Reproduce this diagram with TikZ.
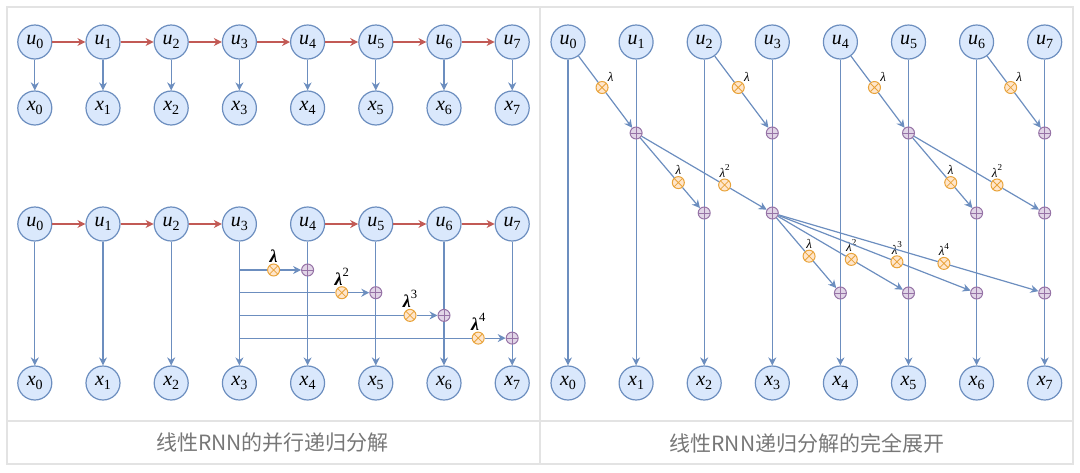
\documentclass[tikz,border=0pt]{standalone}
\usepackage{fontspec}
\newfontfamily\cjk{Noto Sans CJK SC}
\newfontfamily\varfont{Liberation Serif}
\usepackage{xcolor}
\usetikzlibrary{arrows.meta,calc}
\definecolor{Steel}{HTML}{6C8EBF}
\definecolor{Sky}{HTML}{DAE8FC}
\definecolor{Brick}{HTML}{C25A55}
\definecolor{Amber}{HTML}{E8A33A}
\definecolor{Cream}{HTML}{FFE6CC}
\definecolor{Plum}{HTML}{9673A6}
\definecolor{Lilac}{HTML}{E1D5E7}
\definecolor{Rule}{HTML}{E3E3E3}
\definecolor{Ash}{HTML}{777777}
\newcommand\varsub[2]{\textit{#1}\raisebox{-0.22em}{\scalebox{0.7}{\upshape #2}}}
\newcommand\coefpow[1]{\textit{λ}\raisebox{0.5em}{\scalebox{0.7}{\mdseries\upshape #1}}}

\begin{document}
\begin{tikzpicture}[
  x=1pt,y=-1pt,
  var/.style={circle,draw=Steel,fill=Sky,line width=1.2pt,minimum size=34pt,inner sep=0pt,font=\varfont\fontsize{20}{22}\selectfont},
  mul/.style={circle,draw=Amber,fill=Cream,line width=1pt,minimum size=12pt,inner sep=0pt,
    path picture={\draw[Amber,line width=0.8pt] (path picture bounding box.north west) -- (path picture bounding box.south east)
      (path picture bounding box.north east) -- (path picture bounding box.south west);}},
  add/.style={circle,draw=Plum,fill=Lilac,line width=1pt,minimum size=12pt,inner sep=0pt,
    path picture={\draw[Plum,line width=0.8pt] (path picture bounding box.north) -- (path picture bounding box.south)
      (path picture bounding box.west) -- (path picture bounding box.east);}},
  link/.style={line width=1.2pt,draw=Steel},
  arrow/.style={link,-{Stealth[length=8pt,width=8pt]}},
  recur/.style={arrow,draw=Brick},
  coef/.style={font=\varfont\bfseries\fontsize{18}{20}\selectfont,inner sep=1pt},
  coefs/.style={font=\varfont\fontsize{13}{15}\selectfont,inner sep=1pt},
  caption/.style={font=\cjk\fontsize{21}{24}\selectfont,text=Ash}
]
  \useasboundingbox (0,0) rectangle (1080,472);
  % table frame
  \draw[Rule,line width=2pt] (7,7) rectangle (1073,464) (540,7) -- (540,464) (7,421) -- (1073,421);

  % variables and outputs
  \foreach \i in {0,...,7} {
    \node[var] (ua\i) at ({34.8+68.2*\i},42) {\varsub{u}{\i}};
    \node[var] (xa\i) at ({34.8+68.2*\i},108) {\varsub{x}{\i}};
    \node[var] (ub\i) at ({34.8+68.2*\i},224) {\varsub{u}{\i}};
    \node[var] (xb\i) at ({34.8+68.2*\i},383) {\varsub{x}{\i}};
    \node[var] (uc\i) at ({568+68.1*\i},42) {\varsub{u}{\i}};
    \node[var] (xc\i) at ({568+68.1*\i},383) {\varsub{x}{\i}};
    \draw[arrow] (ua\i) -- (xa\i);
    \draw[arrow] (ub\i) -- (xb\i);
    \draw[arrow] (uc\i) -- (xc\i);
  }
  \foreach \i in {0,...,6} {
    \pgfmathtruncatemacro\j{\i+1}
    \draw[recur] (ua\i) -- (ua\j);
  }
  \foreach \i in {0,1,2,4,5,6} {
    \pgfmathtruncatemacro\j{\i+1}
    \draw[recur] (ub\i) -- (ub\j);
  }

  % parallel decomposition
  \foreach \k/\e in {1/,2/2,3/3,4/4} {
    \pgfmathtruncatemacro\c{3+\k}
    \node[add] (pb\k) at ({34.8+68.2*\c},{270+22.7*(\k-1)}) {};
    \node[mul,label={[coef]above:\coefpow{\e}}] (mb\k) at ($(pb\k)+(-34,0)$) {};
    \draw[link] (ub3 |- mb\k) -- (mb\k);
    \draw[arrow] (mb\k) -- (pb\k);
  }

  % full unrolling
  \foreach \i in {1,3,5,7} \node[add] (ra\i) at (uc\i |- 0,133) {};
  \foreach \i in {2,3,6,7} \node[add] (rb\i) at (uc\i |- 0,213) {};
  \foreach \i in {4,5,6,7} \node[add] (rc\i) at (uc\i |- 0,293) {};

  \foreach \s/\d in {0/1,2/3,4/5,6/7} {
    \node[mul,label={[coefs]above right:\coefpow{}}] (ma\d) at ($(uc\s)!0.5!(ra\d)$) {};
    \draw[link] (uc\s) -- (ma\d);
    \draw[arrow] (ma\d) -- (ra\d);
  }
  \foreach \s/\d/\f/\e in {1/2/0.62/,1/3/0.65/2,5/6/0.62/,5/7/0.65/2} {
    \node[mul,label={[coefs]above:\coefpow{\e}}] (mc\d) at ($(ra\s)!\f!(rb\d)$) {};
    \draw[link] (ra\s) -- (mc\d);
    \draw[arrow] (mc\d) -- (rb\d);
  }
  \foreach \d/\f/\e in {4/0.54/,5/0.58/2,6/0.61/3,7/0.63/4} {
    \node[mul,label={[coefs]above:\coefpow{\e}}] (md\d) at ($(rb3)!\f!(rc\d)$) {};
    \draw[link] (rb3) -- (md\d);
    \draw[arrow] (md\d) -- (rc\d);
  }

  % captions
  \node[caption] (capa) at (272.5,443) {线性RNN的并行递归分解};
  \node[caption] (capc) at (807,443) {线性RNN递归分解的完全展开};
\end{tikzpicture}
\end{document}
